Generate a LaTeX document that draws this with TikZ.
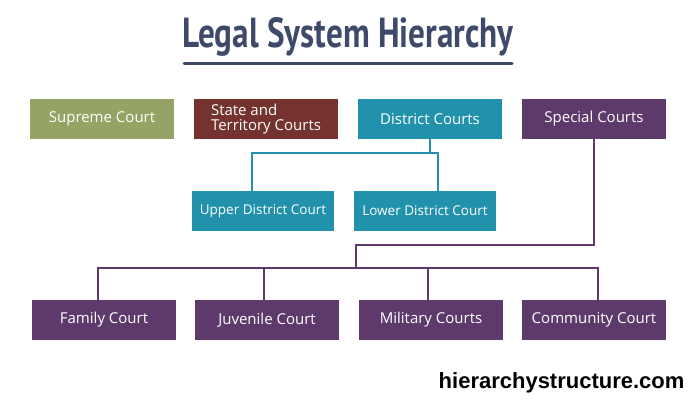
\documentclass[tikz,border=0pt]{standalone}
\usepackage{fontspec}
\setmainfont{Open Sans}
\newfontfamily\titlefont{PT Sans}
\newfontfamily\webfont{Liberation Sans}
\definecolor{olive}{HTML}{95A464}
\definecolor{brick}{HTML}{74332F}
\definecolor{teal2}{HTML}{2291AB}
\definecolor{plum}{HTML}{5E3A6C}
\definecolor{navy}{HTML}{3F4A6B}
\begin{document}
\begin{tikzpicture}[x=1pt,y=-1pt,
  box/.style={minimum width=144pt,minimum height=40pt,inner sep=1pt,text=white,font=\fontsize{15}{15}\selectfont,align=left},
  tline/.style={teal2,line width=1.6pt},
  pline/.style={plum,line width=1.6pt}]
\useasboundingbox (0,0) rectangle (700,400);
\node[font=\titlefont\bfseries\fontsize{42}{42}\selectfont,text=navy,xscale=0.79] (title) at (348,37) {Legal System Hierarchy};
\draw[navy,line width=3pt,line cap=round] (184,63) -- (512,63);
\node[box,fill=olive] (sup) at (102,119) {Supreme Court};
\node[box,fill=brick] (st) at (266,119) {State and\\Territory Courts};
\node[box,fill=teal2] (dc) at (430,119) {District Courts};
\node[box,fill=plum] (sc) at (594,119) {Special Courts};
\node[box,fill=teal2,minimum width=142pt,font=\fontsize{13.5}{14}\selectfont] (up) at (263,211) {Upper District Court};
\node[box,fill=teal2,minimum width=142pt,font=\fontsize{13.5}{14}\selectfont] (lo) at (425,211) {Lower District Court};
\node[box,fill=plum] (fa) at (104,320) {Family Court};
\node[box,fill=plum] (ju) at (267,320) {Juvenile Court};
\node[box,fill=plum] (mi) at (431,320) {Military Courts};
\node[box,fill=plum] (co) at (594,320) {Community Court};
\coordinate (tj) at (430,153);
\draw[tline] (dc.south) -- (tj);
\draw[tline] (tj) -- (252,153) -- (252,191);
\draw[tline] (tj) -- (438,153) -- (438,191);
\coordinate (pj) at (356,268);
\draw[pline] (sc.south) -- (594,245) -- (356,245) -- (pj);
\draw[pline] (98,300) -- (98,268) -- (598,268) -- (598,300);
\draw[pline] (264,268) -- (264,300);
\draw[pline] (428,268) -- (428,300);
\node[font=\webfont\bfseries\fontsize{22}{22}\selectfont,anchor=east] (web) at (688,383) {hierarchystructure.com};
\end{tikzpicture}
\end{document}
